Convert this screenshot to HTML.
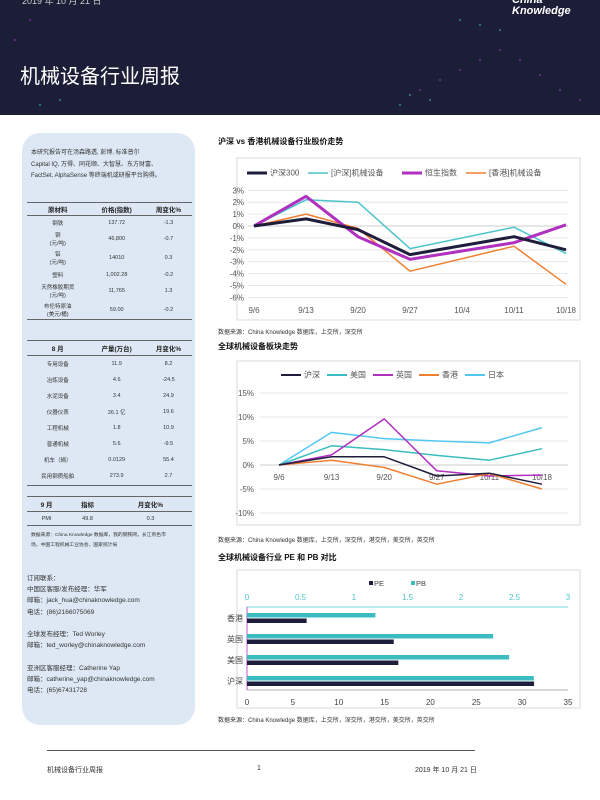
<!DOCTYPE html>
<html><head><meta charset="utf-8">
<style>
*{margin:0;padding:0;box-sizing:border-box}
body{width:600px;height:800px;background:#fff;position:relative;overflow:hidden;font-family:"Liberation Sans","Noto Sans CJK SC",sans-serif;color:#222}
.abs{position:absolute}
#header{left:0;top:0;width:600px;height:115px;background:#1c1e38;overflow:hidden}
.t{position:absolute;font-size:6px;color:#333;white-space:nowrap}
table{border-collapse:collapse;font-size:5.5px;color:#333}
td,th{text-align:center}
th{font-weight:bold;font-size:6.5px;color:#222}
.src{font-size:6px;color:#333;position:absolute;white-space:nowrap}
.ct{font-size:8px;font-weight:bold;position:absolute;white-space:nowrap;color:#111}
</style></head><body>
<div id="header" class="abs">
<svg width="600" height="115" style="position:absolute;left:0;top:0">
<g fill="#b040d0" opacity="0.6"><circle cx="420" cy="90" r="1"/><circle cx="440" cy="80" r="1"/><circle cx="460" cy="70" r="1"/><circle cx="480" cy="60" r="1"/><circle cx="500" cy="50" r="1"/><circle cx="520" cy="60" r="1"/><circle cx="540" cy="75" r="1"/><circle cx="560" cy="90" r="1"/><circle cx="580" cy="100" r="1"/><circle cx="30" cy="20" r="1"/><circle cx="15" cy="40" r="1"/></g>
<g fill="#40c8d0" opacity="0.6"><circle cx="400" cy="105" r="1"/><circle cx="410" cy="95" r="1"/><circle cx="430" cy="100" r="1"/><circle cx="460" cy="20" r="1"/><circle cx="480" cy="25" r="1"/><circle cx="500" cy="30" r="1"/><circle cx="40" cy="105" r="1"/><circle cx="60" cy="100" r="1"/></g>
</svg>
<div class="abs" style="left:22px;top:-6px;color:#ccc;font-size:9px">2019 年 10 月 21 日</div>
<div class="abs" style="left:20px;top:60px;color:#fff;font-size:20px;font-family:'Liberation Sans','Noto Sans CJK SC',sans-serif">机械设备行业周报</div>
<div class="abs" style="left:512px;top:-5px;color:#fff;font-size:11px;font-weight:bold;font-style:italic;line-height:11px">China<br>Knowledge</div>
</div>

<div class="abs" style="left:22px;top:133px;width:173px;height:592px;background:#dde8f4;border-radius:18px"></div>
<div class="t" style="left:31px;top:148px;line-height:11.5px;font-size:6px">本研究报告可在汤森路透, 彭博, 标准普尔<br>Capital IQ, 万得、同花顺、大智慧、东方财富、<br>FactSet, AlphaSense 等终端机或研报平台购得。</div>

<table class="abs" style="left:27px;top:202px;width:165px;border-top:1px solid #666;border-bottom:1px solid #666">
<tr style="height:13px;border-bottom:1px solid #666"><th>原材料</th><th>价格(指数)</th><th>周变化%</th></tr>
<tr style="height:14px"><td>钢铁</td><td>137.72</td><td>-1.3</td></tr>
<tr style="height:19px"><td>铜<br>(元/吨)</td><td>46,800</td><td>-0.7</td></tr>
<tr style="height:19px"><td>铝<br>(元/吨)</td><td>14010</td><td>0.3</td></tr>
<tr style="height:14px"><td>塑料</td><td>1,002.28</td><td>-0.2</td></tr>
<tr style="height:19px"><td>天然橡胶期货<br>(元/吨)</td><td>11,765</td><td>1.3</td></tr>
<tr style="height:19px"><td>布伦特原油<br>(美元/桶)</td><td>59.00</td><td>-0.2</td></tr>
</table>

<table class="abs" style="left:27px;top:340px;width:165px;border-top:1px solid #666;border-bottom:1px solid #666">
<tr style="height:15px;border-bottom:1px solid #666"><th>8 月</th><th>产量(万台)</th><th>月变化%</th></tr>
<tr style="height:16px"><td>专用设备</td><td>11.9</td><td>8.2</td></tr>
<tr style="height:16px"><td>冶炼设备</td><td>4.6</td><td>-24.5</td></tr>
<tr style="height:16px"><td>水泥设备</td><td>3.4</td><td>24.9</td></tr>
<tr style="height:16px"><td>仪器仪表</td><td>26.1 亿</td><td>19.6</td></tr>
<tr style="height:16px"><td>工程机械</td><td>1.8</td><td>10.9</td></tr>
<tr style="height:16px"><td>普通机械</td><td>5.6</td><td>-9.5</td></tr>
<tr style="height:16px"><td>机车（辆）</td><td>0.0129</td><td>55.4</td></tr>
<tr style="height:18px"><td>民用钢质船舶</td><td>273.9</td><td>2.7</td></tr>
</table>

<table class="abs" style="left:27px;top:496px;width:165px;border-top:1px solid #666;border-bottom:1px solid #666">
<tr style="height:15px;border-bottom:1px solid #666"><th>9 月</th><th>指标</th><th>月变化%</th></tr>
<tr style="height:14px"><td>PMI</td><td>49.8</td><td>0.3</td></tr>
</table>
<div class="t" style="left:31px;top:531px;font-size:4.8px;line-height:10px">数据来源：China Knowledge 数据库，我的钢铁网，长江有色市<br>场，中国工程机械工业协会，国家统计局</div>

<div class="t" style="left:27px;top:573px;font-size:6.5px;line-height:11.2px">订阅联系：<br>中国区客服/发布经理：华军<br>邮箱：jack_hua@chinaknowledge.com<br>电话：(86)2166075069<br><br>全球发布经理：Ted Worley<br>邮箱：ted_worley@chinaknowledge.com<br><br>亚洲区客服经理：Catherine Yap<br>邮箱：catherine_yap@chinaknowledge.com<br>电话：(65)67431728</div>

<div class="ct" style="left:218px;top:136px">沪深 vs 香港机械设备行业股价走势</div>
<svg id="c1" class="abs" style="left:0;top:0" width="600" height="800"></svg>
<div class="src" style="left:218px;top:327px">数据来源：China Knowledge 数据库，上交所，深交所</div>

<div class="ct" style="left:218px;top:341px">全球机械设备板块走势</div>
<div class="src" style="left:218px;top:535px">数据来源：China Knowledge 数据库，上交所，深交所，港交所，美交所，英交所</div>

<div class="ct" style="left:218px;top:552px">全球机械设备行业 PE 和 PB 对比</div>
<div class="src" style="left:218px;top:715px">数据来源：China Knowledge 数据库，上交所，深交所，港交所，美交所，英交所</div>

<div class="abs" style="left:47px;top:750px;width:428px;height:1px;background:#555"></div>
<div class="t" style="left:47px;top:765px;font-size:7px">机械设备行业周报</div>
<div class="t" style="left:257px;top:765px;font-size:7px">1</div>
<div class="t" style="left:415px;top:765px;font-size:7px;width:60px;text-align:right">2019 年 10 月 21 日</div>

<script>
const NS='http://www.w3.org/2000/svg';
const svg=document.getElementById('c1');
function mk(tag,attrs,parent){const e=document.createElementNS(NS,tag);for(const k in attrs)e.setAttribute(k,attrs[k]);(parent||svg).appendChild(e);return e;}
function txt(x,y,s,attrs){const e=mk('text',Object.assign({x:x,y:y,'font-size':7,fill:'#444','font-family':'Liberation Sans, Noto Sans CJK SC, sans-serif'},attrs||{}));e.textContent=s;return e;}

/* chart 1 data */
const c1Dates=['9/6','9/13','9/20','9/27','10/4','10/11','10/18'];
const c1Ticks=[3,2,1,0,-1,-2,-3,-4,-5,-6];
const c1Hs300=[0,0.6,-0.3,-2.4,null,-0.9,-2.0];
const c1HsMach=[0,2.2,2.0,-1.9,null,-0.1,-2.3];
const c1Hsi=[0,2.5,-0.9,-2.8,null,-1.4,0.1];
const c1HkMach=[0,1.0,-0.2,-3.8,null,-1.7,-4.9];

/* chart 2 data */
const c2Dates=['9/6','9/13','9/20','9/27','10/11','10/18'];
const c2Ticks=[15,10,5,0,-5,-10];
const c2China=[0,1.7,1.7,-2.3,-1.7,-4.0];
const c2US=[0,4.0,3.2,2.0,1.0,3.4];
const c2UK=[0,2.1,9.6,-1.2,-2.3,-2.1];
const c2HK=[0,1.0,-0.5,-4.0,-1.8,-5.0];
const c2JP=[0,6.8,5.5,5.0,4.6,7.8];

/* chart 3 data */
const c3Cats=['香港','英国','美国','沪深'];
const c3PE=[6.5,16.0,16.5,31.3];
const c3PB=[1.2,2.3,2.45,2.68];
const c3PETicks=[0,5,10,15,20,25,30,35];
const c3PBTicks=[0,0.5,1,1.5,2,2.5,3];

function frame(x,y,w,h,name){const r=mk('rect',{x:x,y:y,width:w,height:h,fill:'#fff',stroke:'#d9d9d9','stroke-width':1});}
function legend(items,y){items.forEach(it=>{const l=mk('line',{x1:it.x,y1:y,x2:it.x+20,y2:y,stroke:it.c,'stroke-width':it.w});const t=txt(it.x+23,y+2.5,it.n,{'font-size':8,fill:'#555'});});}
function series(vals,xf,yf,color,w,name){let pts=[];vals.forEach((v,i)=>{if(v!==null)pts.push(xf(i).toFixed(1)+','+yf(v).toFixed(1));});const p=mk('polyline',{points:pts.join(' '),fill:'none',stroke:color,'stroke-width':w,'stroke-linejoin':'round'});}

/* chart 1 */
frame(237,158,343,162,'chart1-frame');
legend([{x:247,c:'#1e1e3c',w:3,n:'沪深300'},{x:308,c:'#4bc4cc',w:1.5,n:'[沪深]机械设备'},{x:402,c:'#b030c0',w:3,n:'恒生指数'},{x:466,c:'#f08030',w:1.5,n:'[香港]机械设备'}],173);
const y1=v=>226-v*11.9, x1=i=>254+i*(566-254)/(c1Dates.length-1);
c1Ticks.forEach(t=>{const g=mk('line',{x1:248,x2:568,y1:y1(t),y2:y1(t),stroke:t===0?'#bbb':'#e2e2e2','stroke-width':0.8});const l=txt(244,y1(t)+3,t+'%',{'text-anchor':'end','font-size':8,fill:'#555'});});
c1Dates.forEach((d,i)=>{const l=txt(x1(i),313,d,{'text-anchor':'middle','font-size':8,fill:'#555'});});
series(c1HsMach,x1,y1,'#4bc4cc',1.5,'series-hs-machinery');
series(c1HkMach,x1,y1,'#f08030',1.5,'series-hk-machinery');
series(c1Hsi,x1,y1,'#b030c0',3,'series-hang-seng');
series(c1Hs300,x1,y1,'#1e1e3c',3,'series-csi300');

/* chart 2 */
frame(237,361,343,164,'chart2-frame');
legend([{x:281,c:'#1e1e3c',w:2,n:'沪深'},{x:327,c:'#3bbcc0',w:2,n:'美国'},{x:373,c:'#b030c0',w:2,n:'英国'},{x:419,c:'#f08030',w:2,n:'香港'},{x:465,c:'#50c8f0',w:2,n:'日本'}],375);
const y2=v=>465-v*4.8, x2=i=>279+i*(542-279)/(c2Dates.length-1);
c2Ticks.forEach(t=>{const g=mk('line',{x1:260,x2:568,y1:y2(t),y2:y2(t),stroke:t===0?'#bbb':'#e2e2e2','stroke-width':0.8});const l=txt(254,y2(t)+3,t+'%',{'text-anchor':'end','font-size':8,fill:'#555'});});
c2Dates.forEach((d,i)=>{const l=txt(x2(i),480,d,{'text-anchor':'middle','font-size':8,fill:'#555'});});
series(c2JP,x2,y2,'#50c8f0',1.5,'series-japan');
series(c2US,x2,y2,'#3bbcc0',1.5,'series-us');
series(c2UK,x2,y2,'#b030c0',1.5,'series-uk');
series(c2HK,x2,y2,'#f08030',1.5,'series-hk');
series(c2China,x2,y2,'#1e1e3c',1.5,'series-china');

/* chart 3 */
frame(237,570,343,138,'chart3-frame');
[[369,'#1e1e3c','PE'],[411,'#3bbcc0','PB']].forEach(a=>{const r=mk('rect',{x:a[0],y:581,width:4,height:4,fill:a[1]});const t=txt(a[0]+5,586,a[2],{'font-size':7.5,fill:'#444'});});
const xPE=v=>247+v*(568-247)/35, xPB=v=>247+v*(568-247)/3;
c3PBTicks.forEach(t=>{const l=txt(xPB(t),600,String(t),{'text-anchor':'middle','font-size':8,fill:'#4bc4cc'});});
c3PETicks.forEach(t=>{const l=txt(xPE(t),705,String(t),{'text-anchor':'middle','font-size':8,fill:'#444'});});
let a=mk('line',{x1:247,x2:568,y1:607,y2:607,stroke:'#4bc4cc','stroke-width':0.8});
a=mk('line',{x1:247,x2:568,y1:690,y2:690,stroke:'#999','stroke-width':0.8});
a=mk('line',{x1:247,x2:247,y1:607,y2:690,stroke:'#b030c0','stroke-width':0.8});
c3Cats.forEach((c,i)=>{const cy=618+i*21;
 const l=txt(243,cy+3,c,{'text-anchor':'end','font-size':8,fill:'#444'});
 const pb=mk('rect',{x:247,y:cy-5,width:xPB(c3PB[i])-247,height:4.5,fill:'#3bbcc0'});
 const pe=mk('rect',{x:247,y:cy+0.5,width:xPE(c3PE[i])-247,height:4.5,fill:'#1e1e3c'});
});
</script>
</body></html>
